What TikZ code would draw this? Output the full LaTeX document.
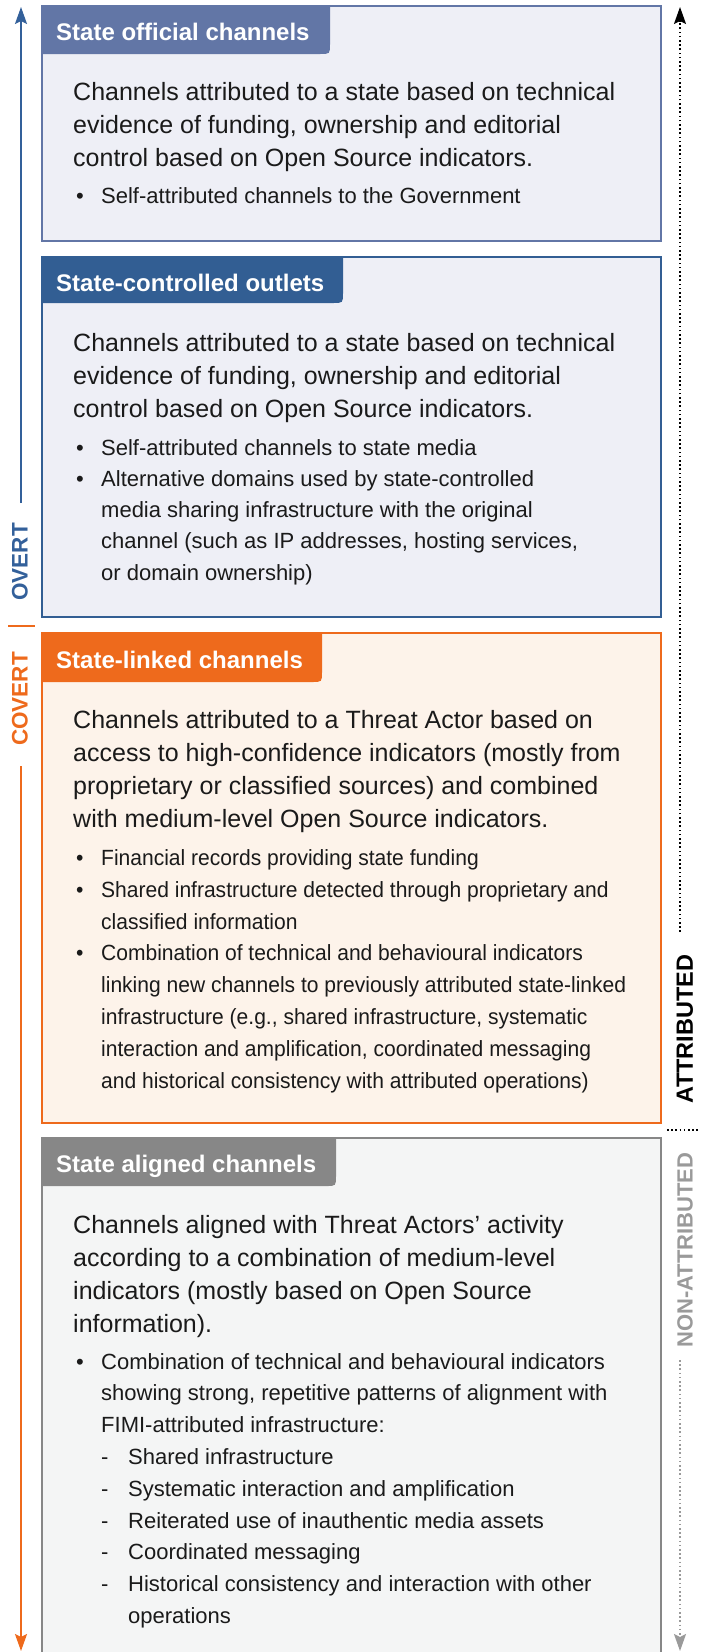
\documentclass[tikz,border=0pt]{standalone}
\usepackage{fontspec}
\setmainfont{Liberation Sans}
\usetikzlibrary{arrows.meta}
\pgfdeclarelayer{boxes}
\pgfdeclarelayer{tabs}
\pgfsetlayers{boxes,tabs,main}

\definecolor{cOff}{HTML}{6276A6}
\definecolor{cCtl}{HTML}{325E93}
\definecolor{cLnk}{HTML}{EE6A1C}
\definecolor{cAln}{HTML}{878787}
\definecolor{fBlue}{HTML}{EEEFF6}
\definecolor{fOrg}{HTML}{FDF3EA}
\definecolor{fGry}{HTML}{F4F5F5}
\definecolor{cAxBlue}{HTML}{33609A}
\definecolor{cAxGrey}{HTML}{9A9A9A}
\definecolor{cTxt}{HTML}{1A1A1A}

\newcommand\bul{\makebox[25pt][l]{•}}
\newcommand\ind{\hspace*{25pt}}
\newcommand\dsh{\hspace*{25pt}\makebox[27pt][l]{-}}
\newcommand\dind{\hspace*{52pt}}

% NOTE: for multi-line nodes the base anchor is the baseline of the LAST line
\tikzset{
  para/.style={anchor=base west, inner sep=0pt, align=left, text=cTxt,
    font=\fontsize{25}{32.7}\selectfont},
  lst/.style={anchor=base west, inner sep=0pt, align=left, text=cTxt,
    font=\fontsize{22}{31.8}\selectfont},
  tabtext/.style={anchor=base west, inner sep=0pt, text=white,
    font=\fontsize{24}{28}\bfseries\selectfont},
  axislabel/.style={rotate=90, inner sep=0pt,
    font=\fontsize{22.5}{26}\bfseries\selectfont},
  boxborder/.style={line width=2pt},
  axisline/.style={line width=2pt},
  dotline/.style={line width=1.6pt, dash pattern=on 1.6pt off 2.6pt},
  tip/.style={-{Stealth[length=17pt,width=12pt,inset=3pt]}},
}

\begin{document}
\begin{tikzpicture}[x=1pt,y=-1pt]
\useasboundingbox (0,0) rectangle (701,1652);

% ---------- Box 1 : State official channels ----------
\begin{pgfonlayer}{boxes}
  \fill[fBlue] (42,6) rectangle (661,241);
\end{pgfonlayer}
\begin{pgfonlayer}{tabs}
  \fill[cOff] (42,6) -- (330,6) -- (330,44) .. controls (330,54) .. (320,54) -- (42,54) -- cycle;
  \draw[cOff, boxborder] (42,6) rectangle (661,241);
\end{pgfonlayer}
\node[tabtext] (h1) at (56,40) {State official channels};
\node[para] (p1) at (73,166) {Channels attributed to a state based on technical\\evidence of funding, ownership and editorial\\control based on Open Source indicators.};
\node[lst] (l1) at (76,203) {\bul Self-attributed channels to the Government};

% ---------- Box 2 : State-controlled outlets ----------
\begin{pgfonlayer}{boxes}
  \fill[fBlue] (42,257) rectangle (661,617);
\end{pgfonlayer}
\begin{pgfonlayer}{tabs}
  \fill[cCtl] (42,257) -- (343,257) -- (343,293) .. controls (343,303) .. (333,303) -- (42,303) -- cycle;
  \draw[cCtl, boxborder] (42,257) rectangle (661,617);
\end{pgfonlayer}
\node[tabtext] (h2) at (56,291) {State-controlled outlets};
\node[para] (p2) at (73,417) {Channels attributed to a state based on technical\\evidence of funding, ownership and editorial\\control based on Open Source indicators.};
\node[lst, font=\fontsize{22}{31.2}\selectfont] (l2) at (76,580) {\bul Self-attributed channels to state media\\
\bul Alternative domains used by state-controlled\\
\ind media sharing infrastructure with the original\\
\ind channel (such as IP addresses, hosting services,\\
\ind or domain ownership)};

% ---------- Box 3 : State-linked channels ----------
\begin{pgfonlayer}{boxes}
  \fill[fOrg] (42,633) rectangle (661,1123);
\end{pgfonlayer}
\begin{pgfonlayer}{tabs}
  \fill[cLnk] (42,633) -- (322,633) -- (322,672) .. controls (322,682) .. (312,682) -- (42,682) -- cycle;
  \draw[cLnk, boxborder] (42,633) rectangle (661,1123);
\end{pgfonlayer}
\node[tabtext] (h3) at (56,668) {State-linked channels};
\node[para] (p3) at (73,827) {Channels attributed to a Threat Actor based on\\access to high-confidence indicators (mostly from\\proprietary or classified sources) and combined\\with medium-level Open Source indicators.};
\node[lst, font=\fontsize{22}{31.8}\selectfont\addfontfeature{FakeStretch=0.956}] (l3) at (76,1088) {\bul Financial records providing state funding\\
\bul Shared infrastructure detected through proprietary and\\
\ind classified information\\
\bul Combination of technical and behavioural indicators\\
\ind linking new channels to previously attributed state-linked\\
\ind infrastructure (e.g., shared infrastructure, systematic\\
\ind interaction and amplification, coordinated messaging\\
\ind and historical consistency with attributed operations)};

% ---------- Box 4 : State aligned channels ----------
\begin{pgfonlayer}{boxes}
  \fill[fGry] (42,1138) rectangle (661,1662);
\end{pgfonlayer}
\begin{pgfonlayer}{tabs}
  \fill[cAln] (42,1138) -- (336,1138) -- (336,1176) .. controls (336,1186) .. (326,1186) -- (42,1186) -- cycle;
  \draw[cAln, boxborder] (42,1138) rectangle (661,1662);
\end{pgfonlayer}
\node[tabtext] (h4) at (56,1172) {State aligned channels};
\node[para] (p4) at (73,1332) {Channels aligned with Threat Actors’ activity\\according to a combination of medium-level\\indicators (mostly based on Open Source\\information).};
\node[lst] (l4) at (76,1623.5) {\bul Combination of technical and behavioural indicators\\
\ind showing strong, repetitive patterns of alignment with\\
\ind FIMI-attributed infrastructure:\\
\dsh Shared infrastructure\\
\dsh Systematic interaction and amplification\\
\dsh Reiterated use of inauthentic media assets\\
\dsh Coordinated messaging\\
\dsh Historical consistency and interaction with other\\
\dind operations};

% ---------- Left axis: OVERT / COVERT ----------
\coordinate (bTop) at (21,7);
\coordinate (bBot) at (21,503);
\draw[cAxBlue, axisline, tip] (bBot) -- (bTop);
\node[axislabel, text=cAxBlue] (overt) at (20,562) {OVERT};
\coordinate (tickL) at (8,626);
\coordinate (tickR) at (35,626);
\draw[cLnk, axisline] (tickL) -- (tickR);
\node[axislabel, text=cLnk] (covert) at (20,699) {COVERT};
\coordinate (oTop) at (21,766);
\coordinate (oBot) at (21,1651);
\draw[cLnk, axisline, tip] (oTop) -- (oBot);

% ---------- Right axis: ATTRIBUTED / NON-ATTRIBUTED ----------
\coordinate (aTop) at (680,7);
\coordinate (aBot) at (680,932);
\draw[black, dotline, tip] (aBot) -- (aTop);
\node[axislabel, text=black, font=\fontsize{23.5}{26}\bfseries\selectfont] (attr) at (685,1029) {ATTRIBUTED};
\coordinate (sepL) at (667,1130);
\coordinate (sepR) at (698,1130);
\draw[black, dotline] (sepL) -- (sepR);
\node[axislabel, text=cAxGrey, font=\fontsize{22}{26}\bfseries\selectfont] (nonattr) at (685,1250) {NON-ATTRIBUTED};
\coordinate (gTop) at (680,1360);
\coordinate (gBot) at (680,1651);
\draw[cAxGrey, dotline, tip] (gTop) -- (gBot);
\end{tikzpicture}
\end{document}
